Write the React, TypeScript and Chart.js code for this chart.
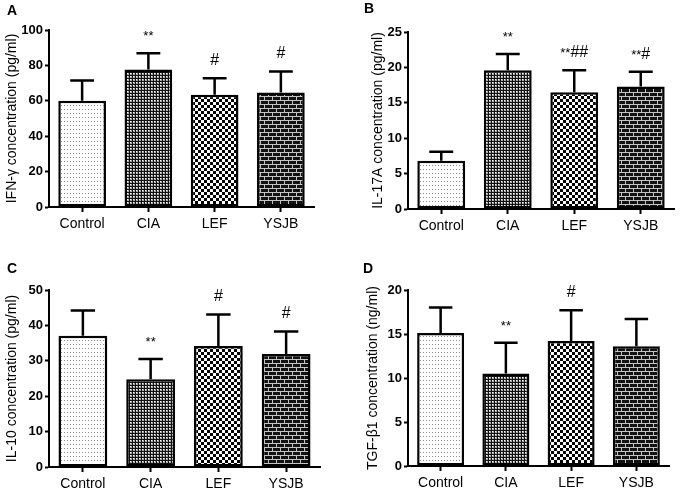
import { useEffect, useRef } from "react";
import { Chart, registerables } from "chart.js";

Chart.register(...registerables);

const FONT = "Arial, 'Liberation Sans', sans-serif";

const groups = ["Control", "CIA", "LEF", "YSJB"];

// A: IFN-γ
const ifnMean = [60, 77.7, 63.4, 64.7];
const ifnSd = [11.5, 9.1, 9.4, 11.9];
const ifnMarks = ["", "**", "#", "#"];

// B: IL-17A
const il17Mean = [6.8, 19.6, 16.5, 17.3];
const il17Sd = [1.3, 2.3, 3.1, 2.1];
const il17Marks = ["", "**", "**##", "**#"];

// C: IL-10
const il10Mean = [37.1, 24.8, 34.2, 31.9];
const il10Sd = [7.1, 5.7, 8.9, 6.4];
const il10Marks = ["", "**", "#", "#"];

// D: TGF-β1
const tgfMean = [15.1, 10.5, 14.2, 13.6];
const tgfSd = [2.9, 3.5, 3.5, 3.1];
const tgfMarks = ["", "**", "#", ""];

function makePattern(kind: string) {
  const c = document.createElement("canvas");
  if (kind === "dots") {
    c.width = 3; c.height = 4;
    const g = c.getContext("2d")!;
    g.fillStyle = "#fff"; g.fillRect(0, 0, 3, 4);
    g.fillStyle = "#8c8c8c"; g.fillRect(1, 1, 1, 1);
    return g.createPattern(c, "repeat");
  }
  if (kind === "fine") {
    c.width = 3; c.height = 3;
    const g = c.getContext("2d")!;
    g.fillStyle = "#111"; g.fillRect(0, 0, 3, 3);
    g.fillStyle = "#fff"; g.fillRect(1, 1, 1, 1);
    g.fillStyle = "#aaa"; g.fillRect(2, 1, 1, 1); g.fillRect(1, 2, 1, 1); g.fillRect(2, 2, 1, 1);
    return g.createPattern(c, "repeat");
  }
  if (kind === "checker") {
    c.width = 6; c.height = 6;
    const g = c.getContext("2d")!;
    g.fillStyle = "#fff"; g.fillRect(0, 0, 6, 6);
    g.fillStyle = "#000"; g.fillRect(0, 0, 3, 3); g.fillRect(3, 3, 3, 3);
    return g.createPattern(c, "repeat");
  }
  // brick
  c.width = 8; c.height = 8;
  const g = c.getContext("2d")!;
  g.fillStyle = "#111"; g.fillRect(0, 0, 8, 8);
  g.fillStyle = "#c4c4c4";
  g.fillRect(0, 0, 8, 1); g.fillRect(0, 4, 8, 1);
  g.fillRect(0, 0, 1, 4); g.fillRect(4, 4, 1, 4);
  return g.createPattern(c, "repeat");
}

function drawMark(ctx: CanvasRenderingContext2D, text: string, cx: number, base: number) {
  if (!text) return;
  const runs = text.match(/\*+|#+/g) || [];
  const fontFor = (r: string) => (r[0] === "*" ? `13px ${FONT}` : `16px ${FONT}`);
  let total = 0;
  runs.forEach((r) => { ctx.font = fontFor(r); total += ctx.measureText(r).width; });
  let x = cx - total / 2;
  ctx.textAlign = "left";
  ctx.textBaseline = "alphabetic";
  runs.forEach((r) => {
    ctx.font = fontFor(r);
    ctx.fillText(r, x, base);
    x += ctx.measureText(r).width;
  });
}

interface Box { yw: number; xh: number; top: number; right: number; tp: number; lx: number; ly: number; }

interface PanelProps {
  letter: string;
  yTitle: string;
  means: number[];
  sds: number[];
  marks: string[];
  max: number;
  step: number;
  box: Box;
}

function Panel({ letter, yTitle, means, sds, marks, max, step, box }: PanelProps) {
  const canvasRef = useRef<HTMLCanvasElement>(null);

  useEffect(() => {
    if (!canvasRef.current) return;
    const fills = [makePattern("dots"), makePattern("fine"), makePattern("checker"), makePattern("brick")];

    const overlay = {
      id: "overlay",
      afterDatasetsDraw(chart: any) {
        const ctx = chart.ctx as CanvasRenderingContext2D;
        const y = chart.scales.y;
        const bars = chart.getDatasetMeta(0).data as any[];
        ctx.save();
        ctx.strokeStyle = "#000";
        ctx.fillStyle = "#000";
        ctx.lineWidth = 2.5;
        bars.forEach((bar, i) => {
          const top = y.getPixelForValue(means[i] + sds[i]);
          const cap = bar.width * 0.25;
          ctx.beginPath();
          ctx.moveTo(bar.x, bar.y);
          ctx.lineTo(bar.x, top);
          ctx.moveTo(bar.x - cap, top);
          ctx.lineTo(bar.x + cap, top);
          ctx.stroke();
          drawMark(ctx, marks[i], bar.x, top - 13);
        });
        ctx.font = `bold 14px ${FONT}`;
        ctx.textAlign = "left";
        ctx.textBaseline = "alphabetic";
        ctx.fillText(letter, box.lx, box.ly);
        ctx.restore();
      },
    };

    const axisGrid = {
      display: true,
      drawOnChartArea: false,
      drawTicks: true,
      offset: false,
      tickLength: 4,
      tickWidth: 2,
      tickColor: "#000",
    };

    const chart = new Chart(canvasRef.current, {
      type: "bar",
      data: {
        labels: groups,
        datasets: [{
          data: means,
          backgroundColor: fills as any,
          borderColor: "#000",
          borderWidth: 2.5,
          borderSkipped: false,
          barPercentage: 0.72,
          categoryPercentage: 1,
        }],
      },
      options: {
        responsive: false,
        animation: false,
        layout: { padding: { left: 0, top: box.top, right: box.right, bottom: 0 } },
        plugins: { legend: { display: false }, tooltip: { enabled: false } },
        scales: {
          x: {
            grid: { ...axisGrid, tickLength: 5 },
            border: { display: true, color: "#000", width: 2 },
            ticks: { color: "#000", font: { size: 14, family: FONT }, padding: 4, maxRotation: 0 },
            afterFit: (s: any) => { s.height = box.xh; },
          },
          y: {
            min: 0,
            max,
            grid: axisGrid,
            border: { display: true, color: "#000", width: 2 },
            ticks: { stepSize: step, color: "#000", font: { size: 13, weight: "bold", family: FONT }, padding: 2 },
            title: { display: true, text: yTitle, color: "#000", font: { size: 14, family: FONT }, padding: { top: box.tp, bottom: 0 } },
            afterFit: (s: any) => { s.width = box.yw; },
          },
        },
      } as any,
      plugins: [overlay],
    });

    return () => {
      chart.destroy();
    };
  }, []);

  return <canvas ref={canvasRef} width={341} height={247} style={{ display: "block" }}></canvas>;
}

export default function App() {
  return (
    <div style={{ position: "absolute", left: 0, top: 0, width: 682, height: 494, background: "#fff", display: "grid", gridTemplateColumns: "341px 341px", gridTemplateRows: "247px 247px" }}>
      <Panel letter="A" yTitle="IFN-γ concentration (pg/ml)" means={ifnMean} sds={ifnSd} marks={ifnMarks} max={100} step={20}
        box={{ yw: 49, xh: 40, top: 30, right: 27, tp: 4, lx: 7, ly: 15 }} />
      <Panel letter="B" yTitle="IL-17A concentration (pg/ml)" means={il17Mean} sds={il17Sd} marks={il17Marks} max={25} step={5}
        box={{ yw: 67, xh: 38, top: 32, right: 8, tp: 29, lx: 23, ly: 13 }} />
      <Panel letter="C" yTitle="IL-10 concentration (pg/ml)" means={il10Mean} sds={il10Sd} marks={il10Marks} max={50} step={10}
        box={{ yw: 49, xh: 27, top: 43, right: 21, tp: 4, lx: 7, ly: 26 }} />
      <Panel letter="D" yTitle="TGF-β1 concentration (ng/ml)" means={tgfMean} sds={tgfSd} marks={tgfMarks} max={20} step={5}
        box={{ yw: 67, xh: 28, top: 43, right: 13, tp: 24, lx: 22, ly: 26 }} />
    </div>
  );
}
